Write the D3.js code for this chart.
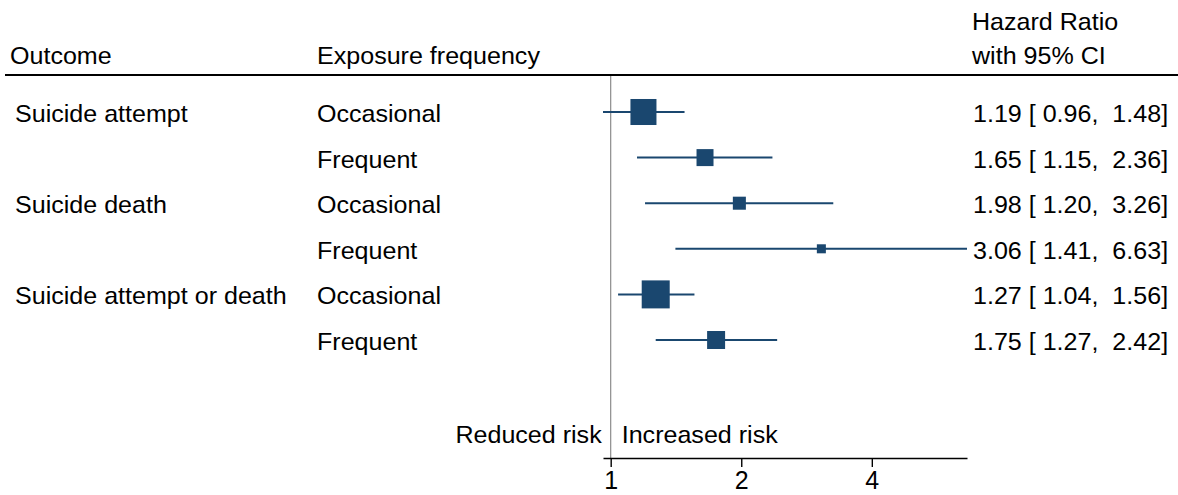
<!DOCTYPE html>
<html>
<head>
<meta charset="utf-8">
<script src="https://cdn.jsdelivr.net/npm/d3@7"></script>
<style>
  body { margin: 0; background: #fff; }
  svg text { font-family: "Liberation Sans", Arial, Helvetica, sans-serif; fill: #000; }
</style>
</head>
<body>
<svg id="chart" width="1178" height="495"></svg>
<script>
/* data */
var outcomes  = ["Suicide attempt", "", "Suicide death", "", "Suicide attempt or death", ""];
var exposures = ["Occasional", "Frequent", "Occasional", "Frequent", "Occasional", "Frequent"];
var hr        = [1.19, 1.65, 1.98, 3.06, 1.27, 1.75];
var ciLow     = [0.96, 1.15, 1.20, 1.41, 1.04, 1.27];
var ciHigh    = [1.48, 2.36, 3.26, 6.63, 1.56, 2.42];
var weights   = [29.1, 12.4, 7.3, 3.5, 33.7, 13.9];   // study weights -> marker area
var tickValues = [1, 2, 4];

var svg = d3.select("#chart");
var fs = 24;          // text is a touch wide in the original, stretch it a bit
var sx = 1.045;
var navy = "#1a476f";

// text helper: x,y is the anchor point, the glyphs get stretched by sx
function label(sel, x, y, txt, anchor, size) {
  return sel.append("text")
    .attr("transform", "translate(" + x + "," + y + ") scale(" + sx + ",1)")
    .attr("text-anchor", anchor || "start")
    .attr("xml:space", "preserve")
    .style("white-space", "pre")
    .style("font-size", (size || fs) + "px")
    .text(txt);
}

var rows = hr.map(function(d, i) {
  return { outcome: outcomes[i], exposure: exposures[i], hr: d, lo: ciLow[i], hi: ciHigh[i], w: weights[i] };
});

// log x scale, domain spans the CIs
var x = d3.scaleLog()
  .domain([d3.min(ciLow), d3.max(ciHigh)])
  .range([603, 967]);

var y = d3.scalePoint()
  .domain(d3.range(rows.length))
  .range([112, 340]);

var size = d3.scaleSqrt()
  .domain([0, d3.max(weights)])
  .range([0, 28]);

// header
label(svg, 10, 63.5, "Outcome");
label(svg, 317, 63.5, "Exposure frequency");
label(svg, 972, 30, "Hazard Ratio");
label(svg, 972, 63.5, "with 95% CI");
svg.append("line")
  .attr("x1", 5).attr("x2", 1178).attr("y1", 75).attr("y2", 75)
  .attr("stroke", "#000").attr("stroke-width", 2);

// null line at HR = 1
svg.append("line")
  .attr("x1", x(1)).attr("x2", x(1)).attr("y1", 76).attr("y2", 458)
  .attr("stroke", "#8c8c8c").attr("stroke-width", 1.2);

// rows
var g = svg.append("g").selectAll("g")
  .data(rows)
  .enter()
  .append("g");

var f = d3.format(".2f");
function pad(v) { var s = f(v); return s.length < 5 ? " " + s : s; }

g.each(function(d, i) {
  var row = d3.select(this);
  label(row, 15, y(i) + 10, d.outcome);
  label(row, 317, y(i) + 10, d.exposure);
  label(row, 973, y(i) + 10, f(d.hr) + " [" + pad(d.lo) + ",  " + f(d.hi) + "]");
});

g.append("line")
  .attr("x1", function(d) { return x(d.lo); })
  .attr("x2", function(d) { return x(d.hi); })
  .attr("y1", function(d, i) { return y(i); })
  .attr("y2", function(d, i) { return y(i); })
  .attr("stroke", navy).attr("stroke-width", 2);

g.append("rect")
  .attr("x", function(d) { return x(d.hr) - size(d.w) / 2; })
  .attr("y", function(d, i) { return y(i) - size(d.w) / 2; })
  .attr("width", function(d) { return size(d.w); })
  .attr("height", function(d) { return size(d.w); })
  .attr("fill", navy);

// risk labels
label(svg, x(1) - 9, 443, "Reduced risk", "end");
label(svg, x(1) + 11, 443, "Increased risk");

// x axis
var axis = svg.append("g")
  .attr("transform", "translate(0,458)")
  .call(d3.axisBottom(x).tickValues(tickValues).tickFormat(d3.format("d")).tickSize(9).tickSizeOuter(0));
axis.select(".domain").attr("stroke", "#000").attr("stroke-width", 1.4);
axis.selectAll(".tick line").attr("stroke", "#000").attr("stroke-width", 1.4);
axis.selectAll(".tick text")
  .attr("dy", null).attr("y", 31)
  .style("font-size", "25px")
  .style("font-family", "'Liberation Sans', Arial, Helvetica, sans-serif");
</script>
</body>
</html>
